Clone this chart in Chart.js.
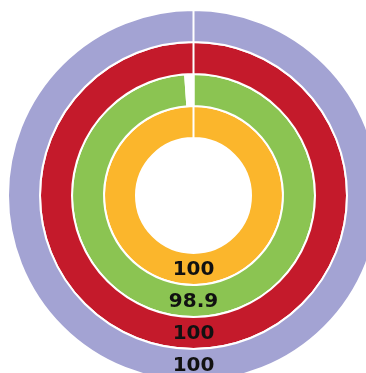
<!DOCTYPE html>
<html>
<head>
<meta charset="utf-8">
<script src="https://cdn.jsdelivr.net/npm/chart.js@4"></script>
<style>
    html, body { margin: 0; padding: 0; background: #fff; overflow: hidden; }
    #wrap { position: absolute; left: 0; top: 0; width: 380px; height: 382px; }
</style>
</head>
<body>
<div id="wrap"><canvas id="rings" width="380" height="382"></canvas></div>
<script>
// rings from outside to inside
const ringNames = ['Ring 1', 'Ring 2', 'Ring 3', 'Ring 4'];
const ringValues = [100, 100, 98.9, 100];
const ringTotal = 100;
const ringColors = ['#a3a3d3', '#c41a2b', '#8bc452', '#fbb62c'];

// write each ring's value at the bottom of the ring
const ringLabelPlugin = {
    id: 'ringLabels',
    afterDatasetsDraw(chart) {
        const ctx = chart.ctx;
        ctx.save();
        ctx.font = 'bold 20px "DejaVu Sans"';
        ctx.fillStyle = '#111';
        ctx.textAlign = 'center';
        ctx.textBaseline = 'middle';
        chart.data.datasets.forEach((ds, i) => {
            const arc = chart.getDatasetMeta(i).data[0];
            const r = (arc.innerRadius + arc.outerRadius) / 2;
            ctx.fillText(String(ringValues[i]), arc.x, arc.y + r + 1);
        });
        ctx.restore();
    }
};

new Chart(document.getElementById('rings').getContext('2d'), {
    type: 'doughnut',
    data: {
        labels: ['value', 'rest'],
        datasets: ringValues.map((v, i) => ({
            label: ringNames[i],
            data: [v, ringTotal - v],
            backgroundColor: [ringColors[i], '#ffffff'],
            borderColor: '#ffffff',
            borderWidth: 2,
            hoverOffset: 0
        }))
    },
    options: {
        responsive: false,
        animation: false,
        cutout: '31%',
        layout: { padding: { left: 7, top: 9, right: 0, bottom: 0 } },
        plugins: {
            legend: { display: false },
            tooltip: { enabled: false }
        }
    },
    plugins: [ringLabelPlugin]
});
</script>
</body>
</html>
